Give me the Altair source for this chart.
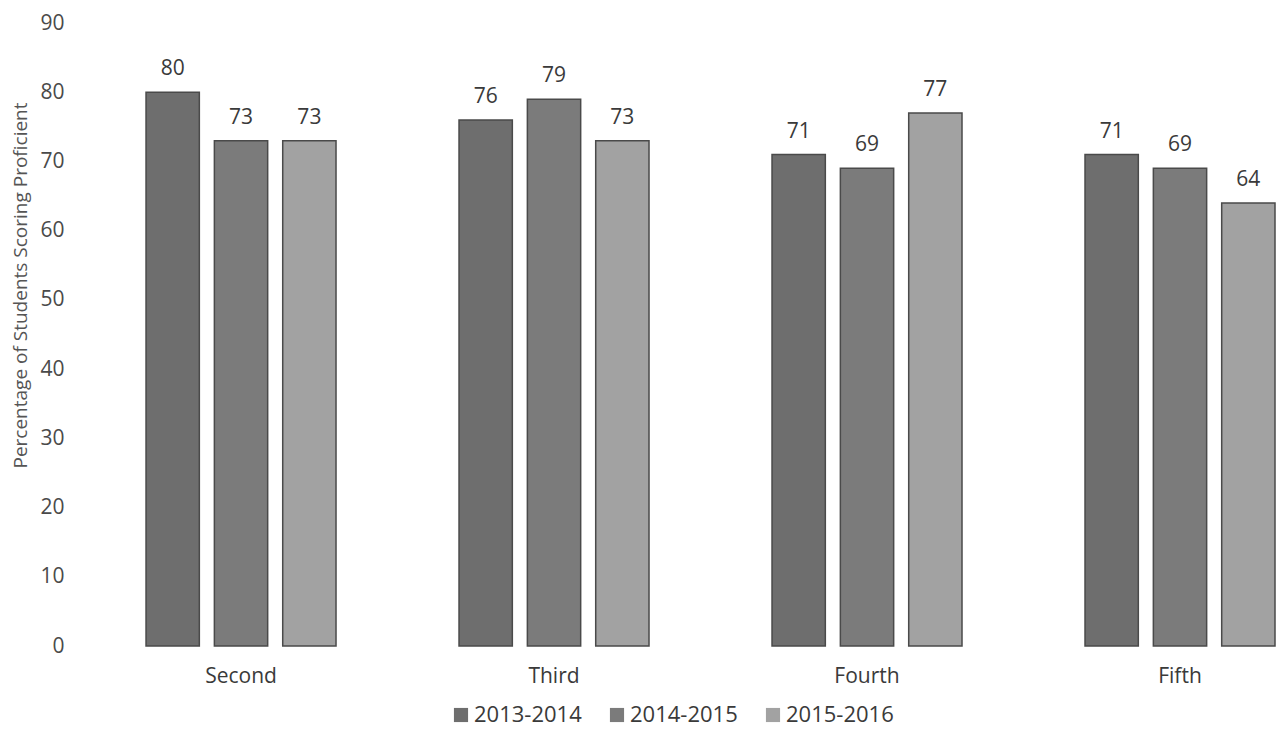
import altair as alt
import pandas as pd

grades = ["Second", "Third", "Fourth", "Fifth"]
years = ["2013-2014", "2014-2015", "2015-2016"]
v2013 = [80, 76, 71, 71]
v2014 = [73, 79, 69, 69]
v2015 = [73, 73, 77, 64]

rows = []
for i, g in enumerate(grades):
    for y, vals in zip(years, [v2013, v2014, v2015]):
        rows.append({"grade": g, "year": y, "value": vals[i]})
df = pd.DataFrame(rows)

FONT = "Open Sans"
colors = ["#6e6e6e", "#7b7b7b", "#a2a2a2"]

base = alt.Chart(df).encode(
    x=alt.X("grade:N", sort=grades,
            scale=alt.Scale(paddingInner=0.393, paddingOuter=0.0975, align=1),
            axis=alt.Axis(title=None, labelAngle=0, labelFontSize=21, labelColor="#3a3a3a",
                          labelFont=FONT, domain=False, ticks=False, labelPadding=19)),
    xOffset=alt.XOffset("year:N", sort=years, scale=alt.Scale(paddingInner=0.22, paddingOuter=0)),
)

bars = base.mark_bar(stroke="#4a4a4a", strokeWidth=1.5).encode(
    y=alt.Y("value:Q", scale=alt.Scale(domain=[0, 90], nice=False),
            axis=alt.Axis(title="Percentage of Students Scoring Proficient", values=list(range(0, 100, 10)),
                          grid=False, domain=False, ticks=False, labelFontSize=21, labelColor="#4a4a4a",
                          labelFont=FONT, labelPadding=21, titleFont=FONT, titleFontSize=19,
                          titleFontWeight="normal", titleColor="#555555",
                          titleX=-65, titleY=262, titleAngle=270, titleAlign="center",
                          titleBaseline="middle")),
    color=alt.Color("year:N", sort=years, scale=alt.Scale(domain=years, range=colors),
                    legend=alt.Legend(title=None, orient="none", legendX=365, legendY=681,
                                      direction="horizontal",
                                      symbolType="square", symbolSize=200, symbolStrokeWidth=0,
                                      labelFontSize=22, labelFont=FONT, labelColor="#3a3a3a",
                                      labelOffset=2, columnPadding=24)),
)

labels = base.mark_text(dy=-23, fontSize=21, font=FONT, color="#3a3a3a").encode(
    y=alt.Y("value:Q"),
    text=alt.Text("value:Q"),
)

chart = (bars + labels).properties(
    width=1190, height=623,
    background="white",
    autosize=alt.AutoSizeParams(type="none"),
    padding={"left": 77, "top": 15, "right": 1, "bottom": 82},
).configure_view(strokeWidth=0, stroke="transparent")

chart.save("out.html", embed_options={"renderer": "svg", "actions": False})
